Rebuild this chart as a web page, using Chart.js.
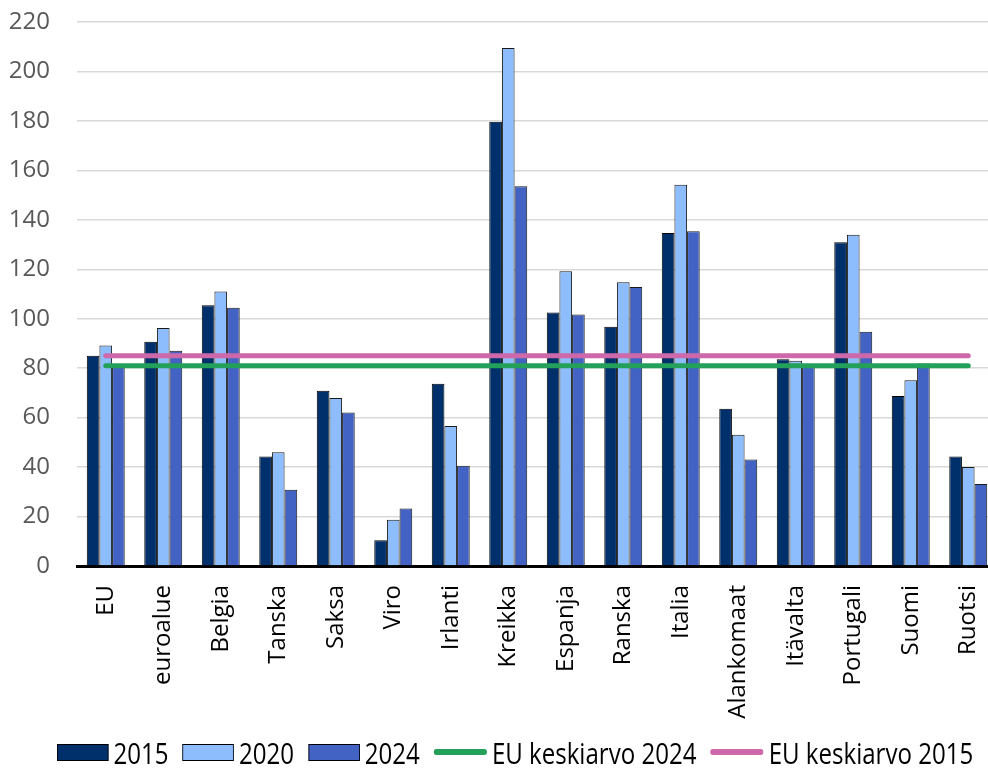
<!DOCTYPE html>
<html lang="fi">
<head>
<meta charset="utf-8">
<script src="https://cdn.jsdelivr.net/npm/chart.js@4.4.1/dist/chart.umd.min.js"></script>
<style>
    html, body { margin: 0; padding: 0; background: #fff; overflow: hidden; }
    #wrap { position: relative; width: 1000px; height: 769px; }
    #legend {
        position: absolute; left: 57px; top: 736px; height: 32px;
        display: flex; align-items: center;
        font-family: "Open Sans", "Noto Sans", sans-serif;
        font-size: 29px; color: #000; white-space: nowrap;
        transform: scaleX(0.83); transform-origin: left center;
    }
    .item { display: flex; align-items: center; margin-right: 17px; }
    .swatch { width: 60px; height: 15px; border: 1px solid #000; margin-right: 6px; }
    .stroke { width: 64px; height: 6px; border-radius: 3px; margin-right: 6px; }
</style>
</head>
<body>
<div id="wrap">
    <canvas id="chart" width="1000" height="735"></canvas>
    <div id="legend"></div>
</div>
<script>
// Categories
const countries = ['EU', 'euroalue', 'Belgia', 'Tanska', 'Saksa', 'Viro', 'Irlanti', 'Kreikka',
    'Espanja', 'Ranska', 'Italia', 'Alankomaat', 'Itävalta', 'Portugali', 'Suomi', 'Ruotsi'];

// Series values
const values2015 = [85, 90.7, 105.5, 44.3, 70.9, 10.4, 73.7, 179.7, 102.5, 96.8, 134.7, 63.6, 83.6, 130.9, 68.7, 44.3];
const values2020 = [89.2, 96.2, 111.0, 46.0, 67.9, 18.7, 56.6, 209.5, 119.2, 114.8, 154.2, 53.1, 83.0, 134.0, 75.1, 40.0];
const values2024 = [80.5, 87.1, 104.4, 30.8, 62.1, 23.3, 40.5, 153.6, 101.7, 112.8, 135.4, 43.1, 80.5, 94.7, 81.9, 33.2];

// EU averages (horizontal reference lines)
const euAvg2024 = [81, 81, 81, 81, 81, 81, 81, 81, 81, 81, 81, 81, 81, 81, 81, 81];
const euAvg2015 = [85, 85, 85, 85, 85, 85, 85, 85, 85, 85, 85, 85, 85, 85, 85, 85];

// Y axis
const yMin = 0;
const yMax = 220;
const yStep = 20;

const datasets = [
    { type: 'bar', label: '2015', data: values2015, backgroundColor: '#00306b', borderColor: '#000', borderWidth: 1, order: 1 },
    { type: 'bar', label: '2020', data: values2020, backgroundColor: '#8ebdfd', borderColor: '#1a1a1a', borderWidth: 1, order: 1 },
    { type: 'bar', label: '2024', data: values2024, backgroundColor: '#4263c4', borderColor: '#1a1a1a', borderWidth: 1, order: 1 },
    { type: 'line', label: 'EU keskiarvo 2024', data: euAvg2024, borderColor: '#23a05a', borderWidth: 5,
      borderCapStyle: 'round', pointRadius: 0, fill: false, order: 0 },
    { type: 'line', label: 'EU keskiarvo 2015', data: euAvg2015, borderColor: '#cd68ab', borderWidth: 5,
      borderCapStyle: 'round', pointRadius: 0, fill: false, order: 0 }
];

new Chart(document.getElementById('chart').getContext('2d'), {
    data: { labels: countries, datasets: datasets },
    options: {
        responsive: false,
        animation: false,
        layout: { padding: { top: 22, right: 3, left: 0, bottom: 0 } },
        datasets: {
            bar: { categoryPercentage: 0.66, barPercentage: 1 }
        },
        plugins: {
            legend: { display: false },
            tooltip: { enabled: false }
        },
        scales: {
            x: {
                grid: { display: false, drawTicks: false },
                border: { display: true, color: '#000', width: 3 },
                ticks: {
                    color: '#000',
                    minRotation: 90,
                    maxRotation: 90,
                    padding: 19,
                    autoSkip: false,
                    font: { family: '"Open Sans", "Noto Sans", sans-serif', size: 24 }
                },
                afterFit: s => {
                    s.height = 169;
                    s.paddingLeft = 0;
                    s.paddingRight = 0;
                }
            },
            y: {
                min: yMin,
                max: yMax,
                grid: { color: '#d9d9d9', lineWidth: 1.5, drawTicks: false },
                border: { display: false },
                ticks: {
                    stepSize: yStep,
                    color: '#595959',
                    padding: 27,
                    font: { family: '"Open Sans", "Noto Sans", sans-serif', size: 24 }
                },
                afterFit: s => {
                    s.width = 77;
                    // tick padding shouldn't push the plot down
                    s.paddingTop = 0;
                    s.paddingBottom = 0;
                }
            }
        }
    }
});

// Legend
const legend = document.getElementById('legend');
datasets.forEach(ds => {
    const item = document.createElement('div');
    item.className = 'item';
    const mark = document.createElement('span');
    if (ds.type === 'bar') {
        mark.className = 'swatch';
        mark.style.background = ds.backgroundColor;
    } else {
        mark.className = 'stroke';
        mark.style.background = ds.borderColor;
    }
    const text = document.createElement('span');
    text.textContent = ds.label;
    item.appendChild(mark);
    item.appendChild(text);
    legend.appendChild(item);
});
</script>
</body>
</html>
